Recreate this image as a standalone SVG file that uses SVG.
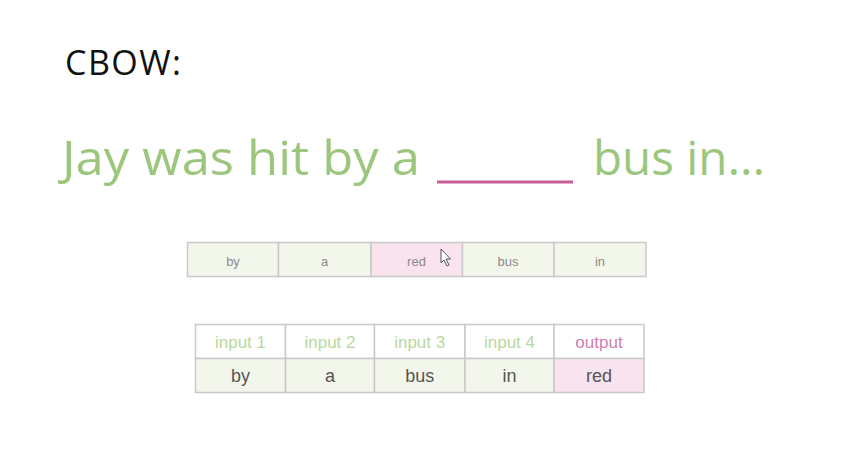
<svg xmlns="http://www.w3.org/2000/svg" width="848" height="460" viewBox="0 0 848 460">
<style>
.title{font-family:"Open Sans","DejaVu Sans",sans-serif;font-size:34px;fill:#111}
.sent{font-family:"Open Sans","DejaVu Sans",sans-serif;font-size:48px;fill:#9cc67c}
.c{stroke:#c9c9c9;stroke-width:1.5}
.g{fill:#f3f6ea}
.p{fill:#f8e3ee}
.w{fill:#ffffff}
.t1{font-family:"Liberation Sans",Arial,sans-serif;font-size:13px;fill:#8a8a8a;text-anchor:middle}
.h{font-family:"Liberation Sans",Arial,sans-serif;font-size:17px;fill:#b9d8a0;text-anchor:middle}
.ho{font-family:"Liberation Sans",Arial,sans-serif;font-size:17px;fill:#cf7fb0;text-anchor:middle}
.b{font-family:"Liberation Sans",Arial,sans-serif;font-size:18px;fill:#555;text-anchor:middle}
</style>
<rect width="848" height="460" fill="#ffffff"/>
<g id="title"><text class="title" x="65" y="75" textLength="116" lengthAdjust="spacing">CBOW:</text></g>
<g id="sentence">
<text class="sent" x="62" y="175" textLength="358" lengthAdjust="spacingAndGlyphs">Jay was hit by a</text>
<line x1="437" y1="182" x2="573" y2="182" stroke="#c85f97" stroke-width="3"/>
<text class="sent" x="593" y="175" textLength="172" lengthAdjust="spacingAndGlyphs">bus in...</text>
</g>
<g id="table1">
<rect class="c g" x="187.5" y="242.5" width="91" height="34"/>
<rect class="c g" x="278.5" y="242.5" width="92.5" height="34"/>
<rect class="c p" x="371" y="242.5" width="91.5" height="34"/>
<rect class="c g" x="462.5" y="242.5" width="91.5" height="34"/>
<rect class="c g" x="554" y="242.5" width="92" height="34"/>
<text class="t1" x="233" y="266">by</text>
<text class="t1" x="324.5" y="266">a</text>
<text class="t1" x="416.5" y="266">red</text>
<text class="t1" x="508" y="266">bus</text>
<text class="t1" x="600" y="266">in</text>
</g>
<g id="cursor">
<path d="M441,249 L441,263 L444,260 L447,266 L449,265 L446,259 L450.5,259 Z" fill="#ffffff" stroke="#555" stroke-width="1"/>
</g>
<g id="table2">
<rect class="c w" x="195.5" y="324.5" width="90" height="34"/>
<rect class="c w" x="285.5" y="324.5" width="89" height="34"/>
<rect class="c w" x="374.5" y="324.5" width="90.5" height="34"/>
<rect class="c w" x="465" y="324.5" width="89" height="34"/>
<rect class="c w" x="554" y="324.5" width="90" height="34"/>
<rect class="c g" x="195.5" y="358.5" width="90" height="34"/>
<rect class="c g" x="285.5" y="358.5" width="89" height="34"/>
<rect class="c g" x="374.5" y="358.5" width="90.5" height="34"/>
<rect class="c g" x="465" y="358.5" width="89" height="34"/>
<rect class="c p" x="554" y="358.5" width="90" height="34"/>
<text class="h" x="240.5" y="348">input 1</text>
<text class="h" x="330" y="348">input 2</text>
<text class="h" x="419.7" y="348">input 3</text>
<text class="h" x="509.5" y="348">input 4</text>
<text class="ho" x="599" y="348">output</text>
<text class="b" x="240.5" y="382">by</text>
<text class="b" x="330" y="382">a</text>
<text class="b" x="419.7" y="382">bus</text>
<text class="b" x="509.5" y="382">in</text>
<text class="b" x="599" y="382">red</text>
</g>
</svg>
